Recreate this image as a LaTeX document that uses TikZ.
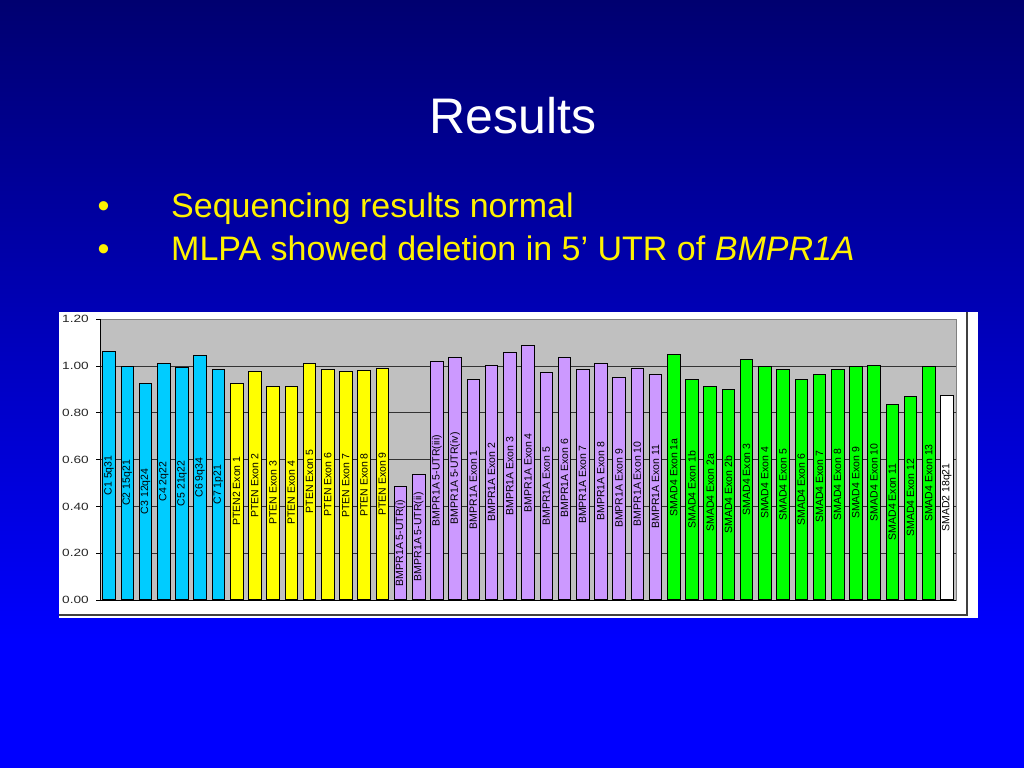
\documentclass[tikz,border=0pt]{standalone}
\usepackage{fontspec}
\setmainfont{Liberation Sans}
\definecolor{slidetop}{RGB}{0,0,112}
\definecolor{slidebottom}{RGB}{0,0,255}
\definecolor{plotgrey}{RGB}{192,192,192}
\definecolor{barcyan}{RGB}{0,204,255}
\definecolor{baryellow}{RGB}{255,255,0}
\definecolor{barlilac}{RGB}{204,153,255}
\definecolor{bargreen}{RGB}{0,255,0}
\tikzset{
  title/.style={anchor=base, text=white, font=\fontsize{50}{60}\selectfont},
  point/.style={text=yellow, inner sep=0pt, font=\fontsize{34}{40}\selectfont},
  ticklabel/.style={anchor=east, inner sep=0pt, xscale=1.3, text=black!85, font=\fontsize{10.5}{12}\selectfont},
  bar/.style={rotate=90, anchor=west, draw=black, line width=0.8pt, inner sep=0pt, minimum height=12.6pt, font=\fontsize{10.5}{12}\selectfont},
  val/.style={minimum width=#1*234pt},
  cbar/.style={bar, fill=barcyan},
  ybar/.style={bar, fill=baryellow},
  lbar/.style={bar, fill=barlilac},
  gbar/.style={bar, fill=bargreen},
  wbar/.style={bar, fill=white},
  grid line/.style={black!80, line width=0.8pt}
}
\begin{document}
\begin{tikzpicture}[x=1pt, y=-1pt]
        \useasboundingbox (0,0) rectangle (1024,768);
        \shade [top color=slidetop, bottom color=slidebottom] (0,0) rectangle (1024,640);
        \fill [slidebottom] (0,640) rectangle (1024,768);

        % heading and bullets
        \node [title] (heading) at (513,133) {Results};
        \node [point, anchor=base] (dot1) at (103.5,217) {•};
        \node [point, anchor=base west] (line1) at (171,217) {Sequencing results normal};
        \node [point, anchor=base] (dot2) at (103.5,260) {•};
        \node [point, anchor=base west] (line2) at (171,260) {MLPA showed deletion in 5’ UTR of \textit{BMPR1A}};

        % chart frame
        \fill [white] (59,312) rectangle (978,618);
        \draw [black!75, line width=1.2pt] (59,615) -- (967,615) -- (967,312);
        \draw [fill=plotgrey, draw=black!50] (100,319.2) rectangle (956,600);

        \draw [grid line] (100,366) -- (956,366);
        \draw [grid line] (100,412.8) -- (956,412.8);
        \draw [grid line] (100,459.6) -- (956,459.6);
        \draw [grid line] (100,506.4) -- (956,506.4);
        \draw [grid line] (100,553.2) -- (956,553.2);

        % bars
        \node [cbar, val=1.061] (c1) at (109.11,600) {C1 5q31};
        \node [cbar, val=0.998] (c2) at (127.32,600) {C2 15q21};
        \node [cbar, val=0.926] (c3) at (145.53,600) {C3 12q24};
        \node [cbar, val=1.008] (c4) at (163.74,600) {C4 2q22};
        \node [cbar, val=0.994] (c5) at (181.96,600) {C5 21q22};
        \node [cbar, val=1.042] (c6) at (200.17,600) {C6 9q34};
        \node [cbar, val=0.984] (c7) at (218.38,600) {C7 1p21};

        \node [ybar, val=0.926] (pten1) at (236.60,600) {PTEN2 Exon 1};
        \node [ybar, val=0.974] (pten2) at (254.81,600) {PTEN Exon 2};
        \node [ybar, val=0.913] (pten3) at (273.02,600) {PTEN Exon 3};
        \node [ybar, val=0.913] (pten4) at (291.23,600) {PTEN Exon 4};
        \node [ybar, val=1.011] (pten5) at (309.45,600) {PTEN Exon 5};
        \node [ybar, val=0.984] (pten6) at (327.66,600) {PTEN Exon 6};
        \node [ybar, val=0.974] (pten7) at (345.87,600) {PTEN Exon 7};
        \node [ybar, val=0.979] (pten8) at (364.09,600) {PTEN Exon 8};
        \node [ybar, val=0.988] (pten9) at (382.30,600) {PTEN Exon 9};

        \node [lbar, val=0.484] (utr1) at (400.51,600) {BMPR1A 5-UTR(i)};
        \node [lbar, val=0.537] (utr2) at (418.72,600) {BMPR1A 5-UTR(ii)};
        \node [lbar, val=1.017] (utr3) at (436.94,600) {BMPR1A 5-UTR(iii)};
        \node [lbar, val=1.037] (utr4) at (455.15,600) {BMPR1A 5-UTR(iv)};
        \node [lbar, val=0.940] (bmp1) at (473.36,600) {BMPR1A Exon 1};
        \node [lbar, val=1.003] (bmp2) at (491.57,600) {BMPR1A Exon 2};
        \node [lbar, val=1.055] (bmp3) at (509.79,600) {BMPR1A Exon 3};
        \node [lbar, val=1.085] (bmp4) at (528.00,600) {BMPR1A Exon 4};
        \node [lbar, val=0.969] (bmp5) at (546.21,600) {BMPR1A Exon 5};
        \node [lbar, val=1.037] (bmp6) at (564.43,600) {BMPR1A Exon 6};
        \node [lbar, val=0.983] (bmp7) at (582.64,600) {BMPR1A Exon 7};
        \node [lbar, val=1.011] (bmp8) at (600.85,600) {BMPR1A Exon 8};
        \node [lbar, val=0.950] (bmp9) at (619.06,600) {BMPR1A Exon 9};
        \node [lbar, val=0.990] (bmp10) at (637.28,600) {BMPR1A Exon 10};
        \node [lbar, val=0.964] (bmp11) at (655.49,600) {BMPR1A Exon 11};

        \node [gbar, val=1.046] (smad1a) at (673.70,600) {SMAD4 Exon 1a};
        \node [gbar, val=0.940] (smad1b) at (691.91,600) {SMAD4 Exon 1b};
        \node [gbar, val=0.913] (smad2a) at (710.13,600) {SMAD4 Exon 2a};
        \node [gbar, val=0.897] (smad2b) at (728.34,600) {SMAD4 Exon 2b};
        \node [gbar, val=1.028] (smad3) at (746.55,600) {SMAD4 Exon 3};
        \node [gbar, val=0.997] (smad4) at (764.77,600) {SMAD4 Exon 4};
        \node [gbar, val=0.984] (smad5) at (782.98,600) {SMAD4 Exon 5};
        \node [gbar, val=0.940] (smad6) at (801.19,600) {SMAD4 Exon 6};
        \node [gbar, val=0.964] (smad7) at (819.40,600) {SMAD4 Exon 7};
        \node [gbar, val=0.983] (smad8) at (837.62,600) {SMAD4 Exon 8};
        \node [gbar, val=0.997] (smad9) at (855.83,600) {SMAD4 Exon 9};
        \node [gbar, val=1.003] (smad10) at (874.04,600) {SMAD4 Exon 10};
        \node [gbar, val=0.836] (smad11) at (892.26,600) {SMAD4 Exon 11};
        \node [gbar, val=0.869] (smad12) at (910.47,600) {SMAD4 Exon 12};
        \node [gbar, val=0.997] (smad13) at (928.68,600) {SMAD4 Exon 13};

        \node [wbar, val=0.873] (smadtwo) at (946.89,600) {SMAD2 18q21};

        % axes
        \draw [black, line width=0.8pt] (100,319.2) -- (100,600) -- (956,600);
        \draw [black, line width=0.8pt] (96,319.2) -- (100,319.2);
        \draw [black, line width=0.8pt] (96,366) -- (100,366);
        \draw [black, line width=0.8pt] (96,412.8) -- (100,412.8);
        \draw [black, line width=0.8pt] (96,459.6) -- (100,459.6);
        \draw [black, line width=0.8pt] (96,506.4) -- (100,506.4);
        \draw [black, line width=0.8pt] (96,553.2) -- (100,553.2);
        \draw [black, line width=0.8pt] (96,600) -- (100,600);

        \node [ticklabel] (t120) at (89,319.2) {1.20};
        \node [ticklabel] (t100) at (89,366) {1.00};
        \node [ticklabel] (t080) at (89,412.8) {0.80};
        \node [ticklabel] (t060) at (89,459.6) {0.60};
        \node [ticklabel] (t040) at (89,506.4) {0.40};
        \node [ticklabel] (t020) at (89,553.2) {0.20};
        \node [ticklabel] (t000) at (89,600) {0.00};
    \end{tikzpicture}
\end{document}
